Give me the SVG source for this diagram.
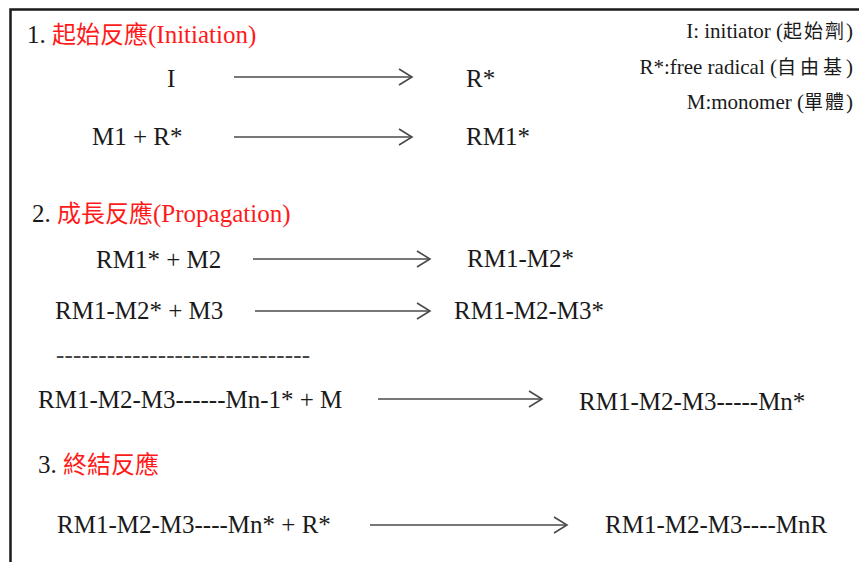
<svg xmlns="http://www.w3.org/2000/svg" width="859" height="562" viewBox="0 0 859 562">
  <defs>
    <marker id="head" viewBox="0 0 16 20" refX="14" refY="10" markerWidth="16" markerHeight="20" markerUnits="userSpaceOnUse" orient="auto">
      <path d="M1,2 L14,10 L1,18" stroke="#4a4a4a" stroke-width="1.6" fill="none"/>
    </marker>
  </defs>
  <rect width="859" height="562" fill="#ffffff"/>
  <!-- open-sided frame: left and top edges only -->
  <path d="M10.5,562 V9.5 H859" stroke="#1a1a1a" stroke-width="2.5" fill="none"/>

  <!-- section titles -->
  <g id="title-initiation">
    <text x="27" y="43" font-family="Liberation Serif" font-size="25" fill="#1a1a1a">1. <tspan fill="#ff1a1a" font-family="Noto Sans CJK TC" font-size="24">起始反應</tspan><tspan fill="#ff1a1a">(Initiation)</tspan></text>
  </g>
  <g id="title-propagation">
    <text x="32" y="222" font-family="Liberation Serif" font-size="25" fill="#1a1a1a">2. <tspan fill="#ff1a1a" font-family="Noto Sans CJK TC" font-size="24">成長反應</tspan><tspan fill="#ff1a1a">(Propagation)</tspan></text>
  </g>
  <g id="title-termination">
    <text x="38" y="473" font-family="Liberation Serif" font-size="25" fill="#1a1a1a">3. <tspan fill="#ff1a1a" font-family="Noto Sans CJK TC" font-size="24">終結反應</tspan></text>
  </g>

  <!-- legend -->
  <g id="legend">
    <text x="853" y="38" text-anchor="end" font-family="Liberation Serif" font-size="21" fill="#1a1a1a">I: initiator (<tspan font-family="Noto Sans CJK TC" font-size="19" letter-spacing="2">起始劑</tspan>)</text>
    <text x="853" y="74" text-anchor="end" font-family="Liberation Serif" font-size="21" fill="#1a1a1a">R*:free radical (<tspan font-family="Noto Sans CJK TC" font-size="19" letter-spacing="4">自由基</tspan>)</text>
    <text x="853" y="109" text-anchor="end" font-family="Liberation Serif" font-size="21" fill="#1a1a1a">M:monomer (<tspan font-family="Noto Sans CJK TC" font-size="19" letter-spacing="2">單體</tspan>)</text>
  </g>

  <!-- species -->
  <g id="n-I"><text x="167" y="87" font-family="Liberation Serif" font-size="25" fill="#1a1a1a">I</text></g>
  <g id="n-Rstar"><text x="466" y="87" font-family="Liberation Serif" font-size="25" fill="#1a1a1a">R*</text></g>
  <g id="n-M1R"><text x="92" y="145" font-family="Liberation Serif" font-size="25" fill="#1a1a1a">M1 + R*</text></g>
  <g id="n-RM1"><text x="466" y="145" font-family="Liberation Serif" font-size="25" fill="#1a1a1a">RM1*</text></g>
  <g id="n-RM1M2"><text x="96" y="268" font-family="Liberation Serif" font-size="25" fill="#1a1a1a">RM1* + M2</text></g>
  <g id="n-RM1M2star"><text x="467" y="267" font-family="Liberation Serif" font-size="25" fill="#1a1a1a">RM1-M2*</text></g>
  <g id="n-RM1M2M3"><text x="55" y="319" font-family="Liberation Serif" font-size="25" fill="#1a1a1a">RM1-M2* + M3</text></g>
  <g id="n-RM1M2M3star"><text x="454" y="319" font-family="Liberation Serif" font-size="25" fill="#1a1a1a">RM1-M2-M3*</text></g>
  <g id="n-ellipsis"><text x="56" y="363" font-family="Liberation Serif" font-size="25" fill="#444444" textLength="254" lengthAdjust="spacing">------------------------------</text></g>
  <g id="n-Mn1"><text x="38" y="408" font-family="Liberation Serif" font-size="25" fill="#1a1a1a">RM1-M2-M3------Mn-1* + M</text></g>
  <g id="n-Mnstar"><text x="579" y="410" font-family="Liberation Serif" font-size="25" fill="#1a1a1a">RM1-M2-M3-----Mn*</text></g>
  <g id="n-MnR-in"><text x="57" y="533" font-family="Liberation Serif" font-size="25" fill="#1a1a1a">RM1-M2-M3----Mn* + R*</text></g>
  <g id="n-MnR"><text x="605" y="533" font-family="Liberation Serif" font-size="25" fill="#1a1a1a">RM1-M2-M3----MnR</text></g>

  <!-- reaction arrows -->
  <g id="connectors" stroke="#4a4a4a" stroke-width="1.6" fill="none">
    <line x1="234" y1="77" x2="412" y2="77" marker-end="url(#head)"/>
    <line x1="234" y1="137" x2="412" y2="137" marker-end="url(#head)"/>
    <line x1="253" y1="259" x2="430" y2="259" marker-end="url(#head)"/>
    <line x1="255" y1="311" x2="430" y2="311" marker-end="url(#head)"/>
    <line x1="378" y1="399" x2="542" y2="399" marker-end="url(#head)"/>
    <line x1="370" y1="525" x2="567" y2="525" marker-end="url(#head)"/>
  </g>
</svg>
